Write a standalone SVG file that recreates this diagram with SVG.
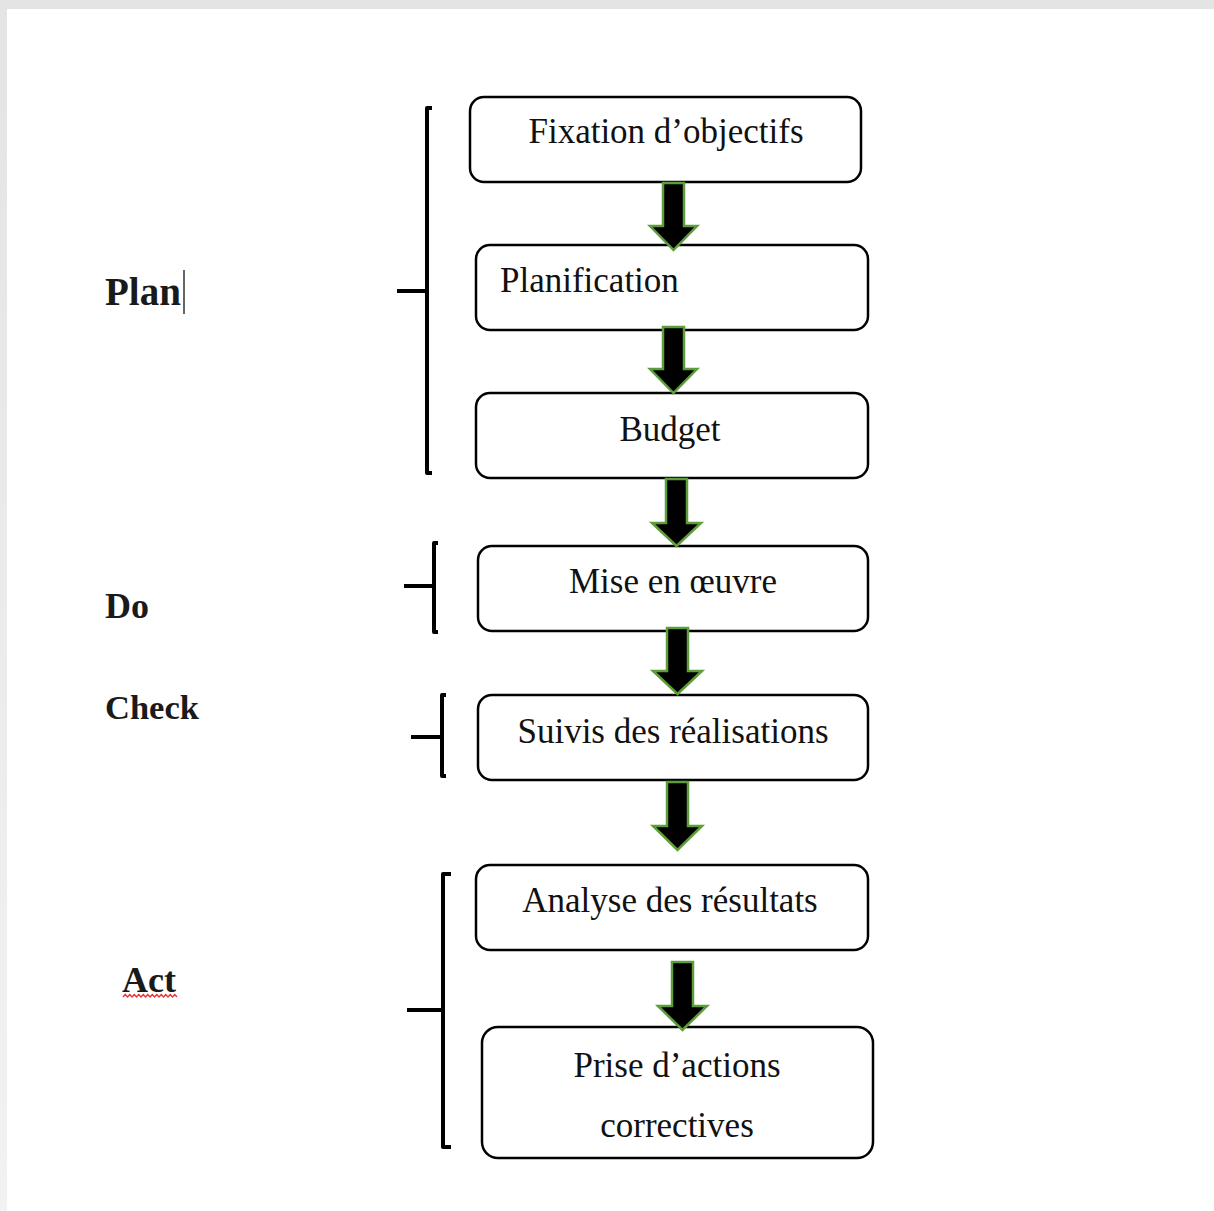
<svg xmlns="http://www.w3.org/2000/svg" width="1214" height="1211" viewBox="0 0 1214 1211">
  <defs>
    <linearGradient id="topEdge" x1="0" y1="0" x2="0" y2="1">
      <stop offset="0" stop-color="#e4e4e4"/>
      <stop offset="1" stop-color="#f2f2f2"/>
    </linearGradient>
    <style>
      .box { fill: #ffffff; stroke: #000000; stroke-width: 2.5; }
      .label { font-family: "Liberation Serif", "Times New Roman", serif; font-size: 35px; fill: #111111; }
      .phase { font-family: "Liberation Serif", "Times New Roman", serif; font-size: 36px; font-weight: bold; fill: #1a1a1a; }
      .brace { fill: none; stroke: #000000; stroke-width: 4; stroke-linecap: butt; stroke-linejoin: round; }
      .arrow { fill: #000000; stroke: #5c9e3a; stroke-width: 2.5; stroke-linejoin: miter; }
    </style>
  </defs>

  <!-- page background with soft edge -->
  <rect x="0" y="0" width="1214" height="1211" fill="url(#topEdge)"/>
  <rect x="7" y="9" width="1207" height="1202" fill="#ffffff"/>

  <!-- phase labels -->
  <g id="phase-plan">
    <text class="phase" x="105" y="305" style="font-size:39px">Plan</text>
    <line x1="184" y1="270" x2="184" y2="314" stroke="#333" stroke-width="1.5"/>
  </g>
  <g id="phase-do"><text class="phase" x="105" y="618">Do</text></g>
  <g id="phase-check"><text class="phase" x="105" y="719" style="font-size:34.5px">Check</text></g>
  <g id="phase-act">
    <text class="phase" x="122" y="992">Act</text>
    <path d="M123 997 l2.25 -2.5 l2.25 2.5 l2.25 -2.5 l2.25 2.5 l2.25 -2.5 l2.25 2.5 l2.25 -2.5 l2.25 2.5 l2.25 -2.5 l2.25 2.5 l2.25 -2.5 l2.25 2.5 l2.25 -2.5 l2.25 2.5 l2.25 -2.5 l2.25 2.5 l2.25 -2.5 l2.25 2.5 l2.25 -2.5 l2.25 2.5 l2.25 -2.5 l2.25 2.5 l2.25 -2.5 l2.25 2.5" fill="none" stroke="#e83030" stroke-width="1.3"/>
  </g>

  <!-- brackets grouping the steps of each phase -->
  <g id="brackets">
    <path class="brace" d="M432 108 L427 108 L427 473 L432 473 M397 291 L427 291"/>
    <path class="brace" d="M438 543 L434 543 L434 632 L438 632 M404 586 L434 586"/>
    <path class="brace" d="M446 695 L442 695 L442 776 L446 776 M411 737 L442 737"/>
    <path class="brace" d="M451 874 L443 874 L443 1147 L451 1147 M407 1010 L443 1010"/>
  </g>

  <!-- steps -->
  <g id="step-fixation">
    <rect class="box" x="470" y="97" width="391" height="85" rx="14"/>
    <text class="label" x="666" y="143" text-anchor="middle">Fixation d’objectifs</text>
  </g>
  <g id="step-planification">
    <rect class="box" x="476" y="245" width="392" height="85" rx="14"/>
    <text class="label" x="500" y="292">Planification</text>
  </g>
  <g id="step-budget">
    <rect class="box" x="476" y="393" width="392" height="85" rx="14"/>
    <text class="label" x="670" y="441" text-anchor="middle">Budget</text>
  </g>
  <g id="step-mise">
    <rect class="box" x="478" y="546" width="390" height="85" rx="14"/>
    <text class="label" x="673" y="593" text-anchor="middle">Mise en œuvre</text>
  </g>
  <g id="step-suivis">
    <rect class="box" x="478" y="695" width="390" height="85" rx="14"/>
    <text class="label" x="673" y="743" text-anchor="middle">Suivis des réalisations</text>
  </g>
  <g id="step-analyse">
    <rect class="box" x="476" y="865" width="392" height="85" rx="14"/>
    <text class="label" x="670" y="912" text-anchor="middle">Analyse des résultats</text>
  </g>
  <g id="step-prise">
    <rect class="box" x="482" y="1027" width="391" height="131" rx="16"/>
    <text class="label" x="677" y="1077" text-anchor="middle">Prise d’actions</text>
    <text class="label" x="677" y="1137" text-anchor="middle">correctives</text>
  </g>

  <!-- block arrows between steps -->
  <g id="connectors">
    <path class="arrow" d="M663 183 L684 183 L684 226 L697 226 L673.5 250 L650 226 L663 226 Z"/>
    <path class="arrow" d="M663 327 L684 327 L684 369 L697 369 L673.5 393 L650 369 L663 369 Z"/>
    <path class="arrow" d="M666 479 L687 479 L687 523 L701 523 L676.5 546 L652 523 L666 523 Z"/>
    <path class="arrow" d="M667 628 L688 628 L688 671 L702 671 L677.5 694 L653 671 L667 671 Z"/>
    <path class="arrow" d="M667 782 L688 782 L688 826 L702 826 L677.5 850 L653 826 L667 826 Z"/>
    <path class="arrow" d="M672 962 L693 962 L693 1006 L707 1006 L682.5 1030 L658 1006 L672 1006 Z"/>
  </g>
</svg>
